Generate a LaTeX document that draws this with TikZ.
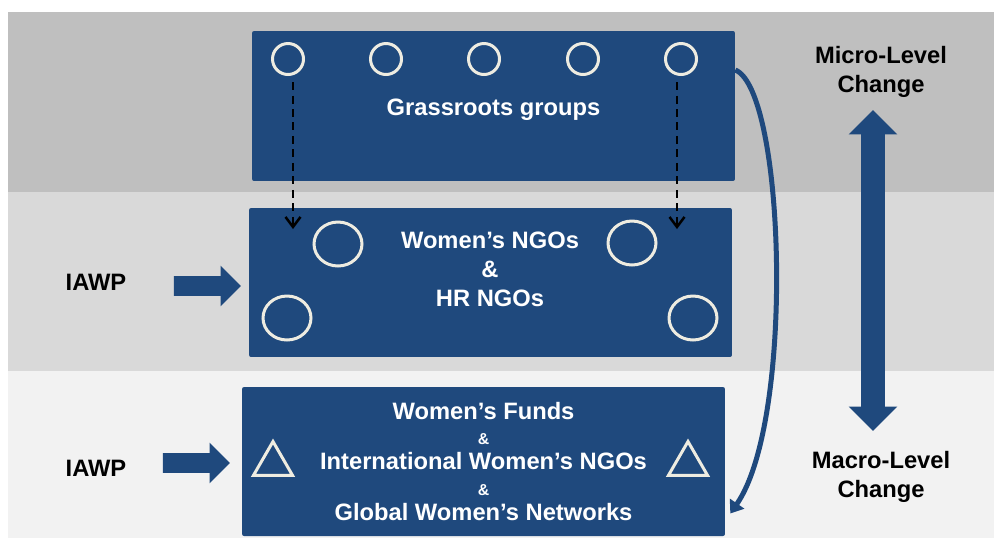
\documentclass[tikz,border=0pt]{standalone}
\usepackage{fontspec}
\setmainfont{Liberation Sans}
\usetikzlibrary{shapes.geometric,shapes.arrows,arrows.meta}

\definecolor{boxblue}{RGB}{31,73,125}
\definecolor{cream}{RGB}{238,236,225}
\definecolor{topband}{RGB}{191,191,191}
\definecolor{midband}{RGB}{217,217,217}
\definecolor{lowband}{RGB}{242,242,242}

\tikzset{
  panel/.style={fill=boxblue, rounded corners=0.04cm, minimum width=9.66cm,
    minimum height=2.98cm, inner sep=0pt, text=white, align=center,
    font=\bfseries\fontsize{13.5}{16.5}\selectfont},
  boxtext/.style={text=white, align=center, font=\bfseries\fontsize{13.5}{16.5}\selectfont},
  sidetext/.style={text=black, align=center, font=\bfseries\fontsize{13.5}{16.5}\selectfont},
  dot/.style={circle, draw=cream, line width=0.06cm, minimum size=0.62cm, inner sep=0pt},
  oval/.style={ellipse, draw=cream, line width=0.06cm, minimum width=0.96cm,
    minimum height=0.88cm, inner sep=0pt},
  tri/.style={regular polygon, regular polygon sides=3, draw=cream,
    line width=0.06cm, minimum size=0.9cm, inner sep=0pt},
  pusharrow/.style={single arrow, fill=boxblue, inner xsep=0pt, inner ysep=0.19cm,
    minimum height=1.34cm, minimum width=0.8cm, single arrow head extend=0.21cm},
  feed/.style={black, line width=0.05cm, dash pattern=on 0.16cm off 0.11cm,
    -{Straight Barb[length=0.2cm,width=0.3cm]}}
}

\begin{document}
\begin{tikzpicture}[x=0.02cm, y=-0.02cm]
    % Page and background bands
    \useasboundingbox[fill=white] (0,0) rectangle (994,539);
    \fill[topband] (8,12) rectangle (994,192);
    \fill[midband] (8,192) rectangle (994,371);
    \fill[lowband] (8,371) rectangle (994,538);

    % The three levels
    \node[panel, minimum height=3cm] (grass) at (493.5,106) {};
    \node[panel] (ngos) at (490.5,282.5) {};
    \node[panel] (funds) at (483.5,461.5)
      {Women’s Funds\\[-2pt]
       {\fontsize{9}{12}\selectfont \&}\\[-2pt]
       International Women’s NGOs\\[-2pt]
       {\fontsize{9}{12}\selectfont \&}\\[-2pt]
       Global Women’s Networks};
    \node[boxtext] (grasstext) at (493.5,110) {Grassroots groups};
    \node[boxtext] (ngotext) at (490,269) {Women’s NGOs\\ \&\\ HR NGOs};

    % Grassroots circles
    \foreach \x [count=\i] in {288,386,484,583,681}
      \node[dot] (g\i) at (\x,59) {};

    % NGO circles
    \node[oval] (n1) at (338,244) {};
    \node[oval] (n2) at (632,243) {};
    \node[oval] (n3) at (287,318) {};
    \node[oval] (n4) at (693,318) {};

    % Fund triangles
    \node[tri] (t1) at (273,464) {};
    \node[tri] (t2) at (688,464) {};

    % Dashed links from grassroots to NGOs
    \coordinate (d1) at (293,229);
    \coordinate (d5) at (677,229);
    \draw[feed, shorten <=0.12cm] (g1.south -| d1) -- (d1);
    \draw[feed, shorten <=0.12cm] (g5.south -| d5) -- (d5);

    % Curved link from grassroots down to funds
    \draw[boxblue, line width=0.1cm, -{Triangle[length=0.24cm,width=0.34cm]}]
      ([yshift=0.72cm]grass.east) .. controls (785,90) and (795,420) .. ([xshift=0.1cm,yshift=-1.04cm]funds.east);

    % IAWP inputs
    \node[sidetext] (iawp1) at (96,282) {IAWP};
    \node[sidetext] (iawp2) at (96,468) {IAWP};
    \node[pusharrow] (push1) at (202.5,286) {};
    \node[pusharrow] (push2) at (191.5,463) {};

    % Scale of change
    \node[sidetext] (micro) at (881,72) {Micro-Level\\ Change};
    \node[sidetext] (macro) at (881,477) {Macro-Level\\ Change};
    \node[double arrow, fill=boxblue, rotate=90, inner xsep=0pt, inner ysep=0.23cm,
      minimum height=6.42cm, minimum width=0.96cm, double arrow head extend=0.25cm]
      (scale) at (873,270.5) {};
\end{tikzpicture}
\end{document}
